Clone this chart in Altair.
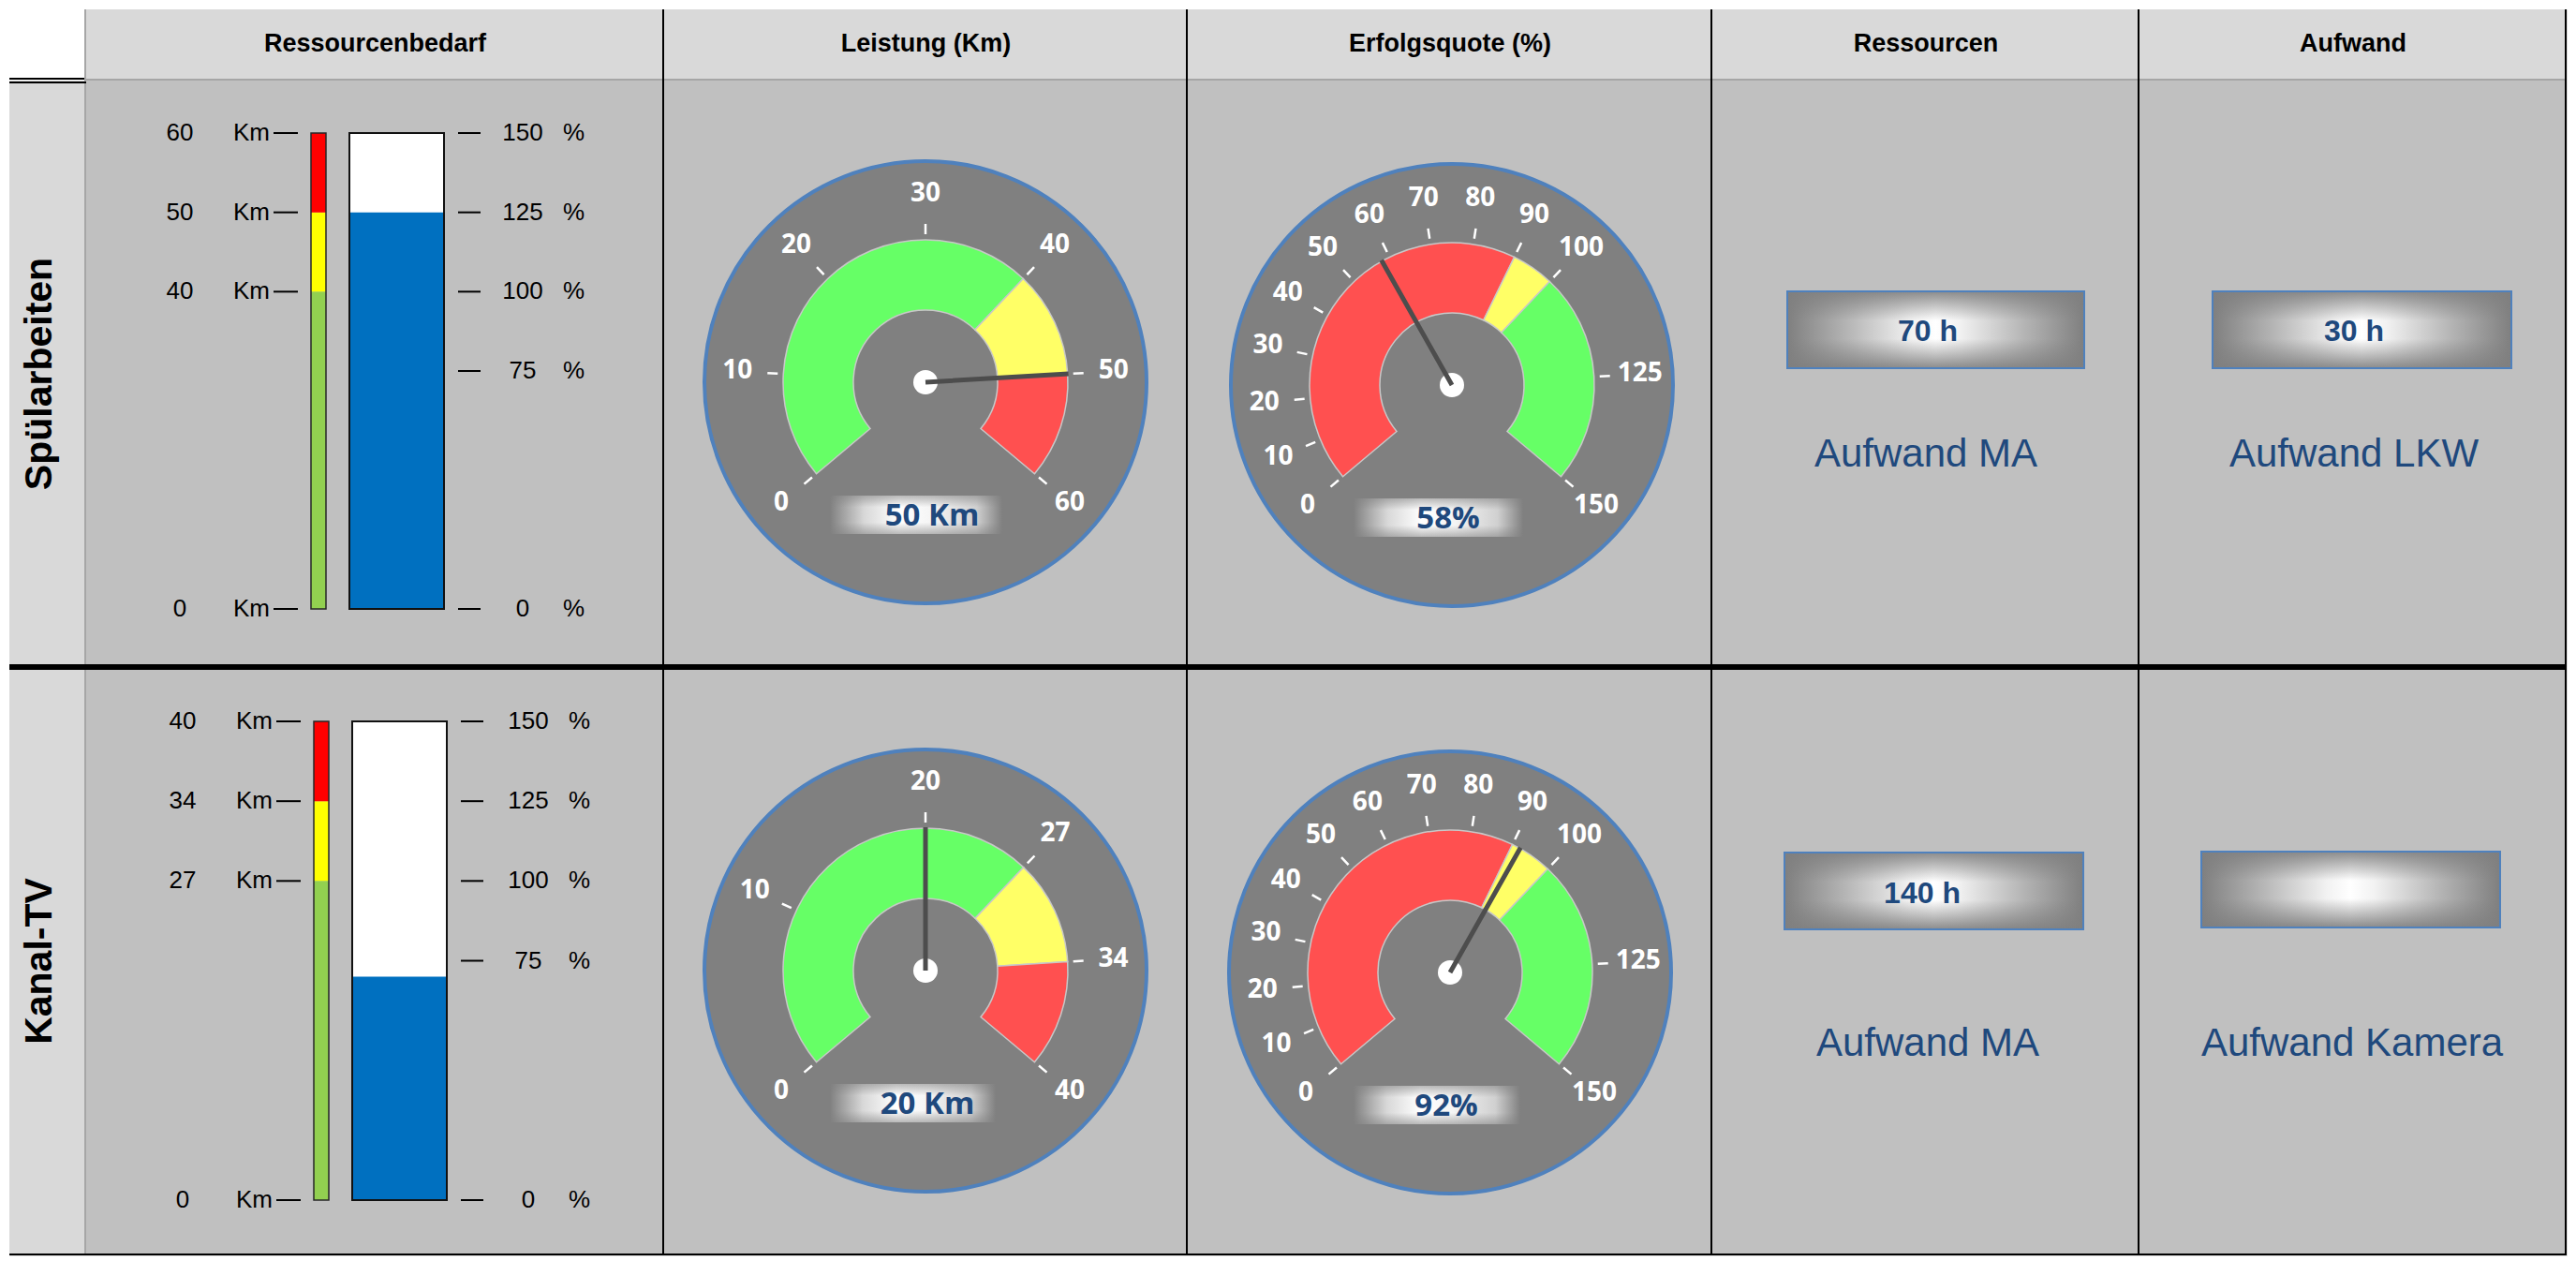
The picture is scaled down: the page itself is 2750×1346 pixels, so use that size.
import altair as alt
import pandas as pd

# ---------------- data ----------------
ROW_NAMES = ["Spülarbeiten", "Kanal-TV"]
COL_NAMES = ["Ressourcenbedarf", "Leistung (Km)", "Erfolgsquote (%)", "Ressourcen", "Aufwand"]

PCT_TICKS = [0, 75, 100, 125, 150]
KM_BAR_LIMITS = [0, 100, 125, 150]
KM_BAR_ZONES = ["grün", "gelb", "rot"]
KM_TICK_PCT = [0, 100, 125, 150]
KM_TICK_LABELS = [["0", "40", "50", "60"], ["0", "27", "34", "40"]]
RESS_PCT = [125, 70]

LEIST_MAX = [60, 40]
LEIST_LIMITS = [[0, 40, 50, 60], [0, 26.7, 33.3, 40]]
LEIST_ZONES = ["grün", "gelb", "rot"]
LEIST_TICKS = [[0, 10, 20, 30, 40, 50, 60], [0, 10, 20, 26.7, 33.3, 40]]
LEIST_TICK_LABELS = [["0", "10", "20", "30", "40", "50", "60"], ["0", "10", "20", "27", "34", "40"]]
LEIST_VALUE = [50, 20]

ERF_MAX = 150
ERF_LIMITS = [0, 90, 100, 150]
ERF_ZONES = ["rot", "gelb", "grün"]
ERF_TICKS = [0, 10, 20, 30, 40, 50, 60, 70, 80, 90, 100, 125, 150]
ERF_TICK_LABELS = ["0", "10", "20", "30", "40", "50", "60", "70", "80", "90", "100", "125", "150"]
ERF_VALUE = [58, 92]

RESSOURCEN_H = [70, 140]
RESSOURCEN_LABEL = ["Aufwand MA", "Aufwand MA"]
AUFWAND_H = [30, None]
AUFWAND_LABEL = ["Aufwand LKW", "Aufwand Kamera"]

# ---------------- style / layout ----------------
HEAD_BG = "#d9d9d9"
CELL_BG = "#c0c0c0"
GRID_GRAY = "#a6a6a6"
DARK_BLUE = "#1f497d"
ARIAL = "Liberation Sans"
CALIBRI = "Open Sans"
BAR_COLORS = {"grün": "#92d050", "gelb": "#ffff00", "rot": "#ff0000"}
GAUGE_COLORS = {"grün": "#66ff66", "gelb": "#ffff66", "rot": "#ff5050"}

COL_W = [82, 617, 559, 560, 456, 456]
ROW_H = [76, 626, 628]
ANG = 2.2689  # 130 degrees

ONE = pd.DataFrame({"k": [0]})


def stops(pairs):
    return [alt.GradientStop(color=c, offset=o) for o, c in pairs]


GRAD_H = alt.LinearGradient(
    gradient="linear",
    stops=stops([(0, "#808080"), (0.2, "#d8d8d8"), (0.4, "#ffffff"), (0.6, "#f4f4f4"),
                 (0.85, "#d0d0d0"), (1, "#808080")]),
    x1=0, x2=1, y1=0, y2=0)
GRAD_V_SOFT = alt.LinearGradient(
    gradient="linear",
    stops=stops([(0, "rgba(128,128,128,0.55)"), (0.3, "rgba(128,128,128,0)"),
                 (0.7, "rgba(128,128,128,0)"), (1, "rgba(128,128,128,0.55)")]),
    x1=0, x2=0, y1=0, y2=1)
GRAD_BOX_H = alt.LinearGradient(
    gradient="linear",
    stops=stops([(0, "#7f7f7f"), (0.2, "#b4b4b4"), (0.42, "#f2f2f2"), (0.5, "#ffffff"),
                 (0.58, "#f2f2f2"), (0.8, "#b4b4b4"), (1, "#7f7f7f")]),
    x1=0, x2=1, y1=0, y2=0)
GRAD_BOX_V = alt.LinearGradient(
    gradient="linear",
    stops=stops([(0, "rgba(127,127,127,0.9)"), (0.38, "rgba(127,127,127,0)"),
                 (0.62, "rgba(127,127,127,0)"), (1, "rgba(127,127,127,0.9)")]),
    x1=0, x2=0, y1=0, y2=1)


def rect(x, x2, y, y2, **kw):
    return alt.Chart(ONE).mark_rect(**kw).encode(
        x=alt.value(x), x2=alt.value(x2), y=alt.value(y), y2=alt.value(y2))


def rule(x, x2, y, y2, color, w):
    return alt.Chart(ONE).mark_rule(color=color, strokeWidth=w).encode(
        x=alt.value(x), x2=alt.value(x2), y=alt.value(y), y2=alt.value(y2))


def text(x, y, s, **kw):
    return alt.Chart(pd.DataFrame({"t": [s]})).mark_text(**kw).encode(
        x=alt.value(x), y=alt.value(y), text="t:N")


def hborders(w, h, i):
    if i == 0:
        return [rule(0, w, h - 1.5, h - 1.5, "black", 3)]
    return [rule(0, w, 1.5, 1.5, "black", 3), rule(0, w, h - 1, h - 1, "black", 2)]


def bar_cell(i, w, h):
    dx = [0, 3][i]
    dxr = [0, 6][i]
    ysc = alt.Scale(domain=[0, 150], range=[[564, 56], [569, 58]][i])
    Y = lambda f: alt.Y(f, scale=ysc, axis=None)
    zones = pd.DataFrame({"lo": KM_BAR_LIMITS[:-1], "hi": KM_BAR_LIMITS[1:], "zone": KM_BAR_ZONES})
    zones["col"] = zones["zone"].map(BAR_COLORS)
    full = pd.DataFrame({"lo": [0], "hi": [150]})
    val = pd.DataFrame({"lo": [0], "hi": [RESS_PCT[i]]})
    kmt = pd.DataFrame({"pct": KM_TICK_PCT, "t": KM_TICK_LABELS[i]})
    pt = pd.DataFrame({"pct": PCT_TICKS})
    layers = [
        rect(0, w, 0, h, fill=CELL_BG),
        alt.Chart(zones).mark_rect().encode(
            y=Y("lo:Q"), y2=alt.Y2("hi"), x=alt.value(240 + dx), x2=alt.value(256 + dx),
            color=alt.Color("col:N", scale=None)),
        alt.Chart(full).mark_rect(fill="transparent", stroke="#262626", strokeWidth=1.5).encode(
            y=Y("lo:Q"), y2=alt.Y2("hi"), x=alt.value(240 + dx), x2=alt.value(256 + dx)),
        alt.Chart(full).mark_rect(fill="white").encode(
            y=Y("lo:Q"), y2=alt.Y2("hi"), x=alt.value(281 + dx), x2=alt.value(382 + dx)),
        alt.Chart(val).mark_rect(fill="#0070c0").encode(
            y=Y("lo:Q"), y2=alt.Y2("hi"), x=alt.value(281 + dx), x2=alt.value(382 + dx)),
        alt.Chart(full).mark_rect(fill="transparent", stroke="#111111", strokeWidth=2).encode(
            y=Y("lo:Q"), y2=alt.Y2("hi"), x=alt.value(281 + dx), x2=alt.value(382 + dx)),
        alt.Chart(kmt).mark_text(font=ARIAL, fontSize=26, align="center", baseline="middle", color="black").encode(
            y=Y("pct:Q"), x=alt.value(100 + dx), text="t:N"),
        alt.Chart(kmt).mark_text(font=ARIAL, fontSize=26, align="left", baseline="middle", color="black").encode(
            y=Y("pct:Q"), x=alt.value(157 + dx), text=alt.value("Km")),
        alt.Chart(kmt).mark_rule(color="black", strokeWidth=2).encode(
            y=Y("pct:Q"), x=alt.value(200 + dx), x2=alt.value(226 + dx)),
        alt.Chart(pt).mark_rule(color="black", strokeWidth=2).encode(
            y=Y("pct:Q"), x=alt.value(397 + dx), x2=alt.value(421 + dx)),
        alt.Chart(pt).mark_text(font=ARIAL, fontSize=26, align="center", baseline="middle", color="black").encode(
            y=Y("pct:Q"), x=alt.value(466 + dxr), text=alt.Text("pct:Q")),
        alt.Chart(pt).mark_text(font=ARIAL, fontSize=26, align="left", baseline="middle", color="black").encode(
            y=Y("pct:Q"), x=alt.value(509 + dxr), text=alt.value("%")),
        rule(w - 1, w - 1, 0, h, "black", 2),
    ] + hborders(w, h, i)
    return alt.layer(*layers).properties(width=w, height=h)


def gauge_cell(i, w, h, cx, cy, vmax, limits, zones, ticks, tick_labels, value, vtext, box_x, text_x):
    sc = alt.Scale(domain=[0, vmax], range=[-ANG, ANG])
    XY = dict(x=alt.value(cx), y=alt.value(cy))
    zdf = pd.DataFrame({"start": limits[:-1], "end": limits[1:], "zone": zones})
    zdf["col"] = zdf["zone"].map(GAUGE_COLORS)
    tdf = pd.DataFrame({"v": ticks, "t": tick_labels})
    ndf = pd.DataFrame({"v": [value]})
    layers = [
        rect(0, w, 0, h, fill=CELL_BG),
        alt.Chart(ONE).mark_arc(radius=236, theta=0, theta2=6.2832, fill="#808080",
                                stroke="#4f81bd", strokeWidth=4).encode(**XY),
        alt.Chart(zdf).mark_arc(radius=152, radius2=77, stroke="#c8c8c8", strokeWidth=1.5).encode(
            theta=alt.Theta("start:Q", scale=sc, stack=False), theta2=alt.Theta2("end"),
            color=alt.Color("col:N", scale=None), **XY),
        alt.Chart(tdf).mark_arc(radius=169, radius2=158, stroke="white", strokeWidth=2.5,
                                fill="transparent").encode(
            theta=alt.Theta("v:Q", scale=sc, stack=False), theta2=alt.Theta2("v"), **XY),
        alt.Chart(tdf).mark_text(radius=201, font=CALIBRI, fontWeight="bold", fontSize=28, color="white",
                                 align="center", baseline="middle").encode(
            theta=alt.Theta("v:Q", scale=sc, stack=False), text="t:N", **XY),
        alt.Chart(ONE).mark_arc(radius=13, theta=0, theta2=6.2832, fill="white").encode(**XY),
        alt.Chart(ndf).mark_arc(radius=153, radius2=0, stroke="#4d4d4d", strokeWidth=5, strokeCap="round",
                                fill="transparent").encode(
            theta=alt.Theta("v:Q", scale=sc, stack=False), theta2=alt.Theta2("v"), **XY),
        rect(box_x[0], box_x[1], cy + 121, cy + 162, fill=GRAD_H),
        rect(box_x[0], box_x[1], cy + 121, cy + 162, fill=GRAD_V_SOFT),
        text(text_x, cy + 143, vtext, font=CALIBRI, fontWeight="bold", fontSize=33, color=DARK_BLUE,
             align="center", baseline="middle"),
        rule(w - 1, w - 1, 0, h, "black", 2),
    ] + hborders(w, h, i)
    return alt.layer(*layers).properties(width=w, height=h)


def box_cell(i, w, h, box, val, tpos, lab, lpos):
    layers = [rect(0, w, 0, h, fill=CELL_BG),
              rect(box[0], box[1], box[2], box[3], fill=GRAD_BOX_H),
              rect(box[0], box[1], box[2], box[3], fill=GRAD_BOX_V, stroke="#4f81bd", strokeWidth=2)]
    if val is not None:
        layers.append(text(tpos[0], tpos[1], f"{val} h", font=ARIAL, fontWeight="bold", fontSize=32,
                           color=DARK_BLUE, align="center", baseline="middle"))
    layers.append(text(lpos[0], lpos[1], lab, font=ARIAL, fontSize=42, color=DARK_BLUE,
                       align="center", baseline="middle"))
    layers.append(rule(w - 1, w - 1, 0, h, "black", 2))
    layers += hborders(w, h, i)
    return alt.layer(*layers).properties(width=w, height=h)


# ---------------- header row ----------------
cells = [alt.layer(rect(0, COL_W[0], 0, ROW_H[0], fill="white"),
                   rule(0, COL_W[0], 74, 74, "black", 2),
                   rule(COL_W[0] - 1, COL_W[0] - 1, 0, ROW_H[0], GRID_GRAY, 2)
                   ).properties(width=COL_W[0], height=ROW_H[0])]
for j, name in enumerate(COL_NAMES):
    w = COL_W[j + 1]
    cells.append(alt.layer(
        rect(0, w, 0, ROW_H[0], fill=HEAD_BG),
        text(w / 2, 37, name, font=ARIAL, fontSize=27, fontWeight="bold", color="black",
             align="center", baseline="middle"),
        rule(0, w, 75, 75, GRID_GRAY, 2),
        rule(w - 1, w - 1, 0, ROW_H[0], "black", 2),
    ).properties(width=w, height=ROW_H[0]))

GL_POS = [dict(cx=279, cy=322, box_x=(177, 361), text_x=286),
          dict(cx=279, cy=324, box_x=(177, 354), text_x=281)]
GE_POS = [dict(cx=282, cy=325, box_x=(177, 358), text_x=278),
          dict(cx=280, cy=326, box_x=(177, 355), text_x=276)]
RB_POS = [dict(box=(80, 397, 225, 307), tpos=(230, 268), lpos=(228, 399)),
          dict(box=(77, 396, 198, 280), tpos=(224, 242), lpos=(230, 402))]
AB_POS = [dict(box=(78, 397, 225, 307), tpos=(229, 268), lpos=(229, 399)),
          dict(box=(66, 385, 197, 278), tpos=(226, 238), lpos=(227, 402))]

for i in range(2):
    h = ROW_H[i + 1]
    w0 = COL_W[0]
    head = [rect(0, w0, 0, h, fill=HEAD_BG),
            text(33, h / 2, ROW_NAMES[i], font=ARIAL, fontSize=41, fontWeight="bold", angle=270,
                 align="center", baseline="middle", color="black"),
            rule(w0 - 1, w0 - 1, 0, h, GRID_GRAY, 2)]
    if i == 0:
        head.append(rule(0, w0, 2, 2, "black", 2))
    head += hborders(w0, h, i)
    cells += [alt.layer(*head).properties(width=w0, height=h),
              bar_cell(i, COL_W[1], h),
              gauge_cell(i, COL_W[2], h, vmax=LEIST_MAX[i], limits=LEIST_LIMITS[i], zones=LEIST_ZONES,
                         ticks=LEIST_TICKS[i], tick_labels=LEIST_TICK_LABELS[i], value=LEIST_VALUE[i],
                         vtext=f"{LEIST_VALUE[i]} Km", **GL_POS[i]),
              gauge_cell(i, COL_W[3], h, vmax=ERF_MAX, limits=ERF_LIMITS, zones=ERF_ZONES,
                         ticks=ERF_TICKS, tick_labels=ERF_TICK_LABELS, value=ERF_VALUE[i],
                         vtext=f"{ERF_VALUE[i]}%", **GE_POS[i]),
              box_cell(i, COL_W[4], h, val=RESSOURCEN_H[i], lab=RESSOURCEN_LABEL[i], **RB_POS[i]),
              box_cell(i, COL_W[5], h, val=AUFWAND_H[i], lab=AUFWAND_LABEL[i], **AB_POS[i])]

chart = alt.concat(*cells, columns=6, spacing=0, bounds="flush").properties(
    padding={"left": 0, "top": 0, "right": 0, "bottom": 0}
).configure_view(strokeWidth=0).configure(background="white")

chart.save("out.html", embed_options={"renderer": "svg", "actions": False})
